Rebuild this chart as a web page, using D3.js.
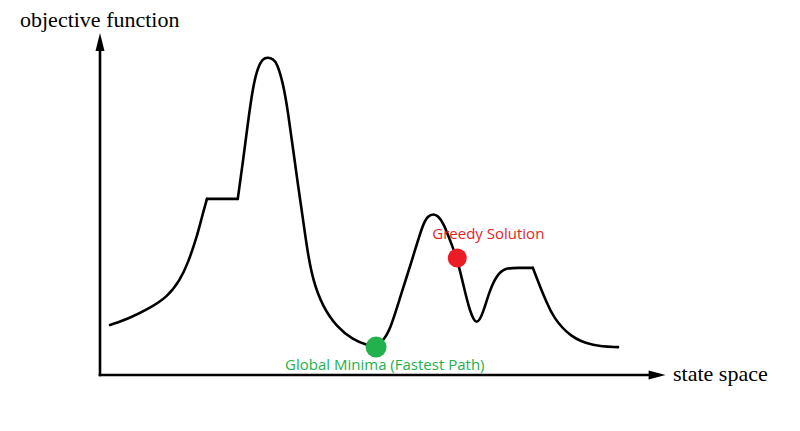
<!DOCTYPE html>
<html>
<head>
<meta charset="utf-8">
<script src="https://cdn.jsdelivr.net/npm/d3@7"></script>
<style>
  html, body { margin: 0; padding: 0; background: #fff; }
  svg { display: block; }
</style>
</head>
<body>
<svg id="chart" width="800" height="431"></svg>
<script>
// ---- data (state space units, objective function units) ----
const stateX = [1.8, 5.4, 8.9, 12.0, 14.3, 15.7, 17.3, 18.2, 19.1, 24.6, 25.5, 26.4, 27.3, 28.2, 29.1, 30.0, 30.9, 31.6, 32.7, 33.6, 34.5, 35.4, 36.1, 37.0, 38.0, 39.8, 42.3, 45.2, 47.7, 49.3, 50.5, 51.8, 53.6, 55.9, 57.7, 58.6, 59.5, 60.4, 61.3, 62.5, 63.8, 64.8, 66.1, 67.3, 68.4, 69.6, 70.9, 72.3, 74.8, 77.3, 78.6, 79.8, 80.9, 83.9, 88.0, 92.5];
const objective = [14.7, 16.8, 19.7, 22.9, 27.9, 32.9, 40.6, 46.5, 51.8, 51.8, 62.4, 74.1, 84.7, 90.6, 93.1, 93.5, 92.9, 91.8, 85.9, 77.1, 66.2, 55.3, 47.6, 36.8, 27.9, 20.0, 14.1, 10.3, 8.8, 8.4, 10.0, 13.2, 22.9, 34.7, 44.7, 46.8, 47.4, 46.8, 44.7, 39.7, 34.1, 27.1, 18.2, 14.4, 18.2, 25.0, 29.4, 31.5, 31.5, 31.5, 25.9, 21.2, 17.1, 11.2, 8.5, 8.2];
// indices where the curve has a sharp corner (plateau edges)
const corners = [8, 9, 49];
const markerLabels = ["Global Minima (Fastest Path)", "Greedy Solution"];
const markerX = [49.3, 63.8];
const markerY = [8.2, 34.4];
const markerColors = ["#22b14c", "#ed1c24"];
const axisLabels = ["objective function", "state space"];

// ---- scales ----
const x = d3.scaleLinear().domain([0, 101]).range([100, 665.6]);
const y = d3.scaleLinear().domain([0, 100.6]).range([375, 33]);

const svg = d3.select("#chart");

// ---- axes ----
const axisG = svg.append("g");
axisG.append("line")
  .attr("x1", x(0)).attr("y1", y(0) + 1.3).attr("x2", x(0)).attr("y2", y(100.6) + 8)
  .attr("stroke", "#000").attr("stroke-width", 2.6);
axisG.append("line")
  .attr("x1", x(0) - 1.3).attr("y1", y(0)).attr("x2", x(101) - 8).attr("y2", y(0))
  .attr("stroke", "#000").attr("stroke-width", 2.6);
// arrowheads
axisG.append("path")
  .attr("d", `M${x(0)},${y(100.6)} L${x(0) - 4.5},${y(100.6) + 18} L${x(0) + 4.5},${y(100.6) + 18} Z`)
  .attr("fill", "#000");
axisG.append("path")
  .attr("d", `M${x(101)},${y(0)} L${x(101) - 17},${y(0) - 4.5} L${x(101) - 17},${y(0) + 4.5} Z`)
  .attr("fill", "#000");

svg.append("text")
  .attr("x", 20).attr("y", 27)
  .attr("font-family", "'Liberation Serif', 'Times New Roman', serif")
  .attr("font-size", 22).attr("fill", "#000")
  .text(axisLabels[0]);
svg.append("text")
  .attr("x", 673).attr("y", 381)
  .attr("font-family", "'Liberation Serif', 'Times New Roman', serif")
  .attr("font-size", 22).attr("fill", "#000")
  .text(axisLabels[1]);

// ---- curve, split at sharp corners ----
const pts = stateX.map((v, i) => [v, objective[i]]);
const breaks = [0, ...corners, pts.length - 1];
const line = d3.line().x(d => x(d[0])).y(d => y(d[1])).curve(d3.curveBasis);
for (let k = 0; k < breaks.length - 1; k++) {
  const seg = pts.slice(breaks[k], breaks[k + 1] + 1);
  svg.append("path")
    .attr("d", line(seg))
    .attr("fill", "none")
    .attr("stroke", "#000")
    .attr("stroke-width", 2.6)
    .attr("stroke-linejoin", "round")
    .attr("stroke-linecap", "round");
}

// ---- markers ----
svg.selectAll("circle.marker")
  .data(markerX)
  .enter().append("circle")
  .attr("class", "marker")
  .attr("cx", (d) => x(d))
  .attr("cy", (d, i) => y(markerY[i]))
  .attr("r", (d, i) => i === 0 ? 10.5 : 9.5)
  .attr("fill", (d, i) => markerColors[i]);

// labels
svg.append("text")
  .attr("x", x(markerX[0]) - 91).attr("y", y(markerY[0]) + 23)
  .attr("font-family", "'Open Sans', 'Noto Sans', sans-serif")
  .attr("font-size", 15).attr("fill", markerColors[0])
  .text(markerLabels[0]);
svg.append("text")
  .attr("x", x(markerX[1]) - 25).attr("y", y(markerY[1]) - 19)
  .attr("font-family", "'Open Sans', 'Noto Sans', sans-serif")
  .attr("font-size", 15).attr("fill", markerColors[1])
  .text(markerLabels[1]);
</script>
</body>
</html>
